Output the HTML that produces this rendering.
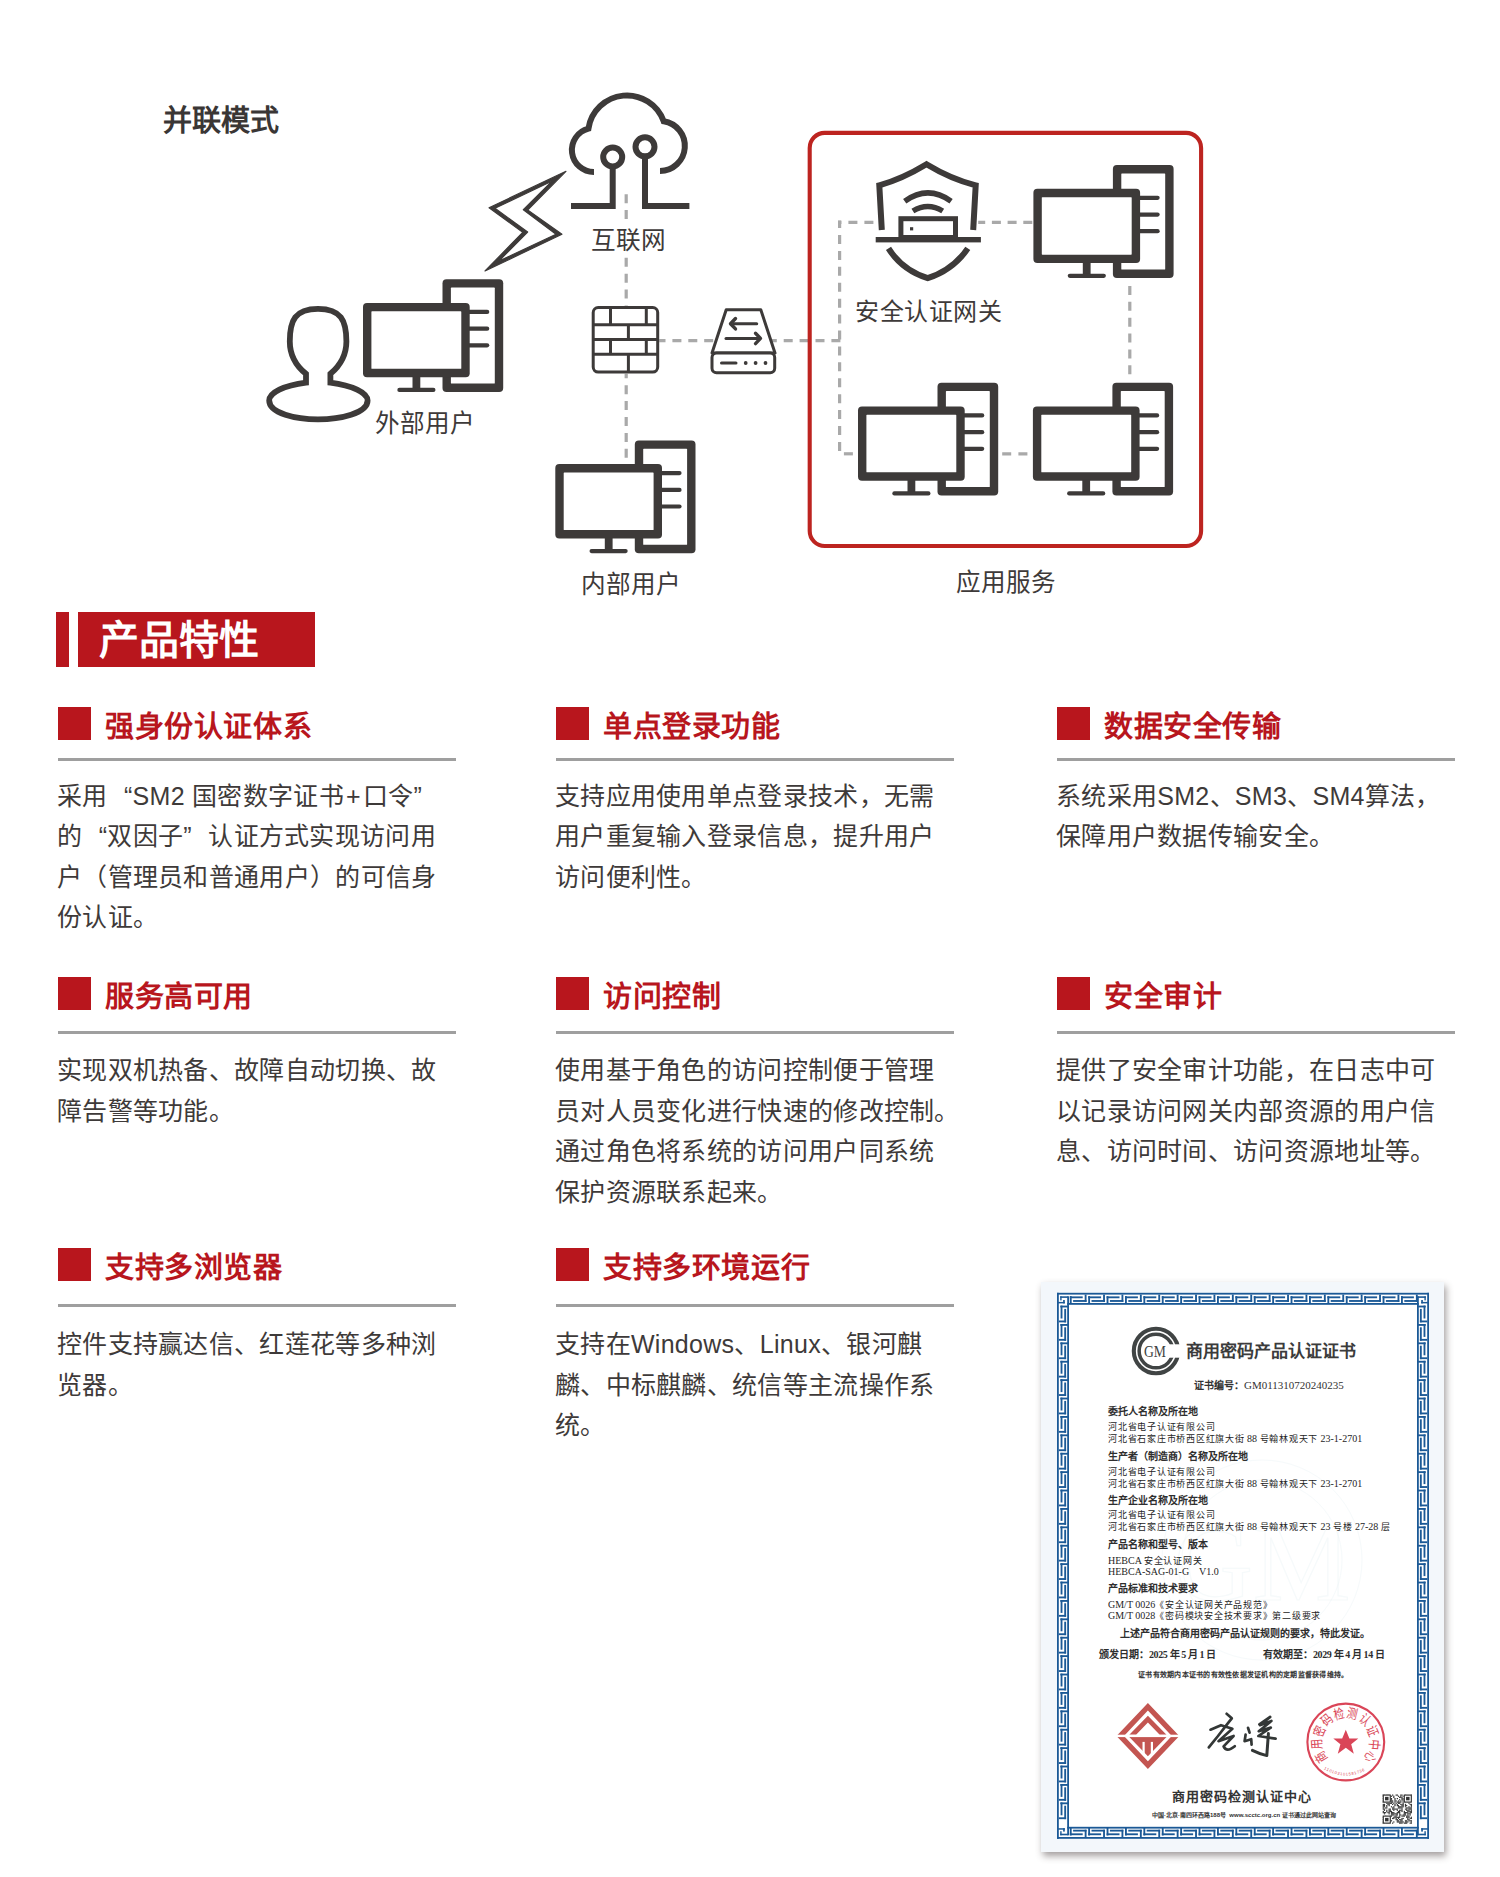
<!DOCTYPE html>
<html lang="zh-CN"><head><meta charset="utf-8"><title>并联模式</title>
<style>
html,body{margin:0;padding:0;background:#fff;}
body{width:1500px;height:1877px;position:relative;overflow:hidden;font-family:"Liberation Sans",sans-serif;color:#3e3a39;}
.diag{position:absolute;left:0;top:0;}
.t{position:absolute;white-space:nowrap;line-height:1;}
.lbl{position:absolute;white-space:nowrap;font-size:24.6px;line-height:1;color:#3e3a39;}
.sq{position:absolute;width:33px;height:33px;background:#b8161d;}
.fh{position:absolute;white-space:nowrap;font-size:29px;letter-spacing:0.6px;line-height:40px;font-weight:bold;color:#b8161d;}
.hl{position:absolute;width:398px;height:3px;background:#9f9f9f;}
.ql{display:inline-block;width:1em;text-align:right}
.qr{display:inline-block;width:1em;text-align:left}
.ct{position:absolute;white-space:nowrap;line-height:1;}
.lat{font-size:10px;letter-spacing:0;}
.pl{margin:0 2px}
.fb{position:absolute;white-space:nowrap;font-size:25px;letter-spacing:0.3px;line-height:40.6px;color:#3e3a39;}
</style></head><body>
<svg class="diag" width="1500" height="620" viewBox="0 0 1500 620"><line x1="626.2" y1="194.2" x2="626.2" y2="306" stroke="#a9a9a9" stroke-width="3.2" stroke-dasharray="9 6.90" stroke-dashoffset="0"/>
<rect x="612" y="224" width="30" height="30" fill="#fff"/>
<line x1="626.2" y1="373.8" x2="626.2" y2="457.8" stroke="#a9a9a9" stroke-width="3.2" stroke-dasharray="9 6.90" stroke-dashoffset="4.5"/>
<line x1="659.2" y1="340.6" x2="841.2" y2="340.6" stroke="#a9a9a9" stroke-width="3.2" stroke-dasharray="9 6.90" stroke-dashoffset="2.7"/>
<line x1="839.6" y1="220.4" x2="839.6" y2="451" stroke="#a9a9a9" stroke-width="3.2" stroke-dasharray="9 6.92" stroke-dashoffset="1.32"/>
<line x1="838" y1="222.3" x2="878" y2="222.3" stroke="#a9a9a9" stroke-width="3.2" stroke-dasharray="9 7.00" stroke-dashoffset="5.6"/>
<line x1="978.2" y1="222.3" x2="1033" y2="222.3" stroke="#a9a9a9" stroke-width="3.2" stroke-dasharray="9 6.70" stroke-dashoffset="2"/>
<line x1="843.9" y1="453.8" x2="852.9" y2="453.8" stroke="#a9a9a9" stroke-width="3.2" stroke-dasharray="9 6.90" stroke-dashoffset="0"/>
<line x1="1002.2" y1="453.8" x2="1028" y2="453.8" stroke="#a9a9a9" stroke-width="3.2" stroke-dasharray="9 7.20" stroke-dashoffset="0"/>
<line x1="1129.8" y1="286" x2="1129.8" y2="374.8" stroke="#a9a9a9" stroke-width="3.2" stroke-dasharray="9 6.85" stroke-dashoffset="0"/>
<rect x="809.7" y="132.9" width="391.4" height="413.1" rx="15" fill="none" stroke="#bd2420" stroke-width="4.1"/>
<path d="M594 172 A22 22 0 0 1 588.4 128.7 A39 39 0 0 1 663.7 121.3 A25 25 0 0 1 660 171" fill="none" stroke="#3d3a39" stroke-width="6"/>
<circle cx="612.7" cy="157" r="9.5" fill="none" stroke="#3d3a39" stroke-width="6"/>
<circle cx="645" cy="146.8" r="9.5" fill="none" stroke="#3d3a39" stroke-width="6"/>
<path d="M612.7 166.5 V206.1 H571" fill="none" stroke="#3d3a39" stroke-width="6"/>
<path d="M645 156.3 V206.1 H689.4" fill="none" stroke="#3d3a39" stroke-width="6"/>
<path d="M566 171.3 L489 207.7 L522.7 232.3 L485 271 L562 234.3 L527.7 210 Z M551.7 181.3 L495 208.3 L527.7 232 L499 261 L556 234.3 L523.3 209.7 Z" fill="#3d3a39" fill-rule="evenodd" stroke="#3d3a39" stroke-width="1.1" stroke-linejoin="round"/>
<rect x="593.2" y="307.6" width="64.5" height="64.5" rx="5" fill="#fff" stroke="#3d3a39" stroke-width="3"/>
<line x1="593.2" y1="324.8" x2="657.7" y2="324.8" stroke="#3d3a39" stroke-width="3"/>
<line x1="593.2" y1="339.6" x2="657.7" y2="339.6" stroke="#3d3a39" stroke-width="3"/>
<line x1="593.2" y1="354.2" x2="657.7" y2="354.2" stroke="#3d3a39" stroke-width="3"/>
<line x1="610.5" y1="307.6" x2="610.5" y2="324.8" stroke="#3d3a39" stroke-width="3"/>
<line x1="646.3" y1="307.6" x2="646.3" y2="324.8" stroke="#3d3a39" stroke-width="3"/>
<line x1="628.4" y1="324.8" x2="628.4" y2="339.6" stroke="#3d3a39" stroke-width="3"/>
<line x1="610.5" y1="339.6" x2="610.5" y2="354.2" stroke="#3d3a39" stroke-width="3"/>
<line x1="646.3" y1="339.6" x2="646.3" y2="354.2" stroke="#3d3a39" stroke-width="3"/>
<line x1="628.4" y1="354.2" x2="628.4" y2="372.1" stroke="#3d3a39" stroke-width="3"/>
<path d="M712 353 L726.2 309.8 L760.8 309.8 L775 353 Z" fill="#fff" stroke="#3d3a39" stroke-width="3" stroke-linejoin="round"/>
<rect x="712" y="353.1" width="62.7" height="19.7" rx="4.5" fill="#fff" stroke="#3d3a39" stroke-width="3"/>
<path d="M734 323.7 H756.7" stroke="#3d3a39" stroke-width="3" stroke-linecap="round"/>
<path d="M735.5 318.5 L730.5 323.7 L735.5 328.9" fill="none" stroke="#3d3a39" stroke-width="3.4" stroke-linecap="round" stroke-linejoin="round"/>
<path d="M726 338.4 H758" stroke="#3d3a39" stroke-width="3" stroke-linecap="round"/>
<path d="M755.5 333.2 L760.5 338.4 L755.5 343.6" fill="none" stroke="#3d3a39" stroke-width="3.4" stroke-linecap="round" stroke-linejoin="round"/>
<path d="M721.5 363 H736" stroke="#3d3a39" stroke-width="3" stroke-linecap="round"/>
<circle cx="745.7" cy="363" r="1.9" fill="#3d3a39"/>
<circle cx="755.6" cy="363" r="1.9" fill="#3d3a39"/>
<circle cx="765.5" cy="363" r="1.9" fill="#3d3a39"/>
<path d="M306 382.6 L306 373.8 C297.6 367 289.8 355.8 289.8 341.4 C289.8 320.4 295 308.8 318 308.8 C341 308.8 346.4 320.4 346.4 341.4 C346.4 355.8 338.4 367 330.4 373.8 L330.4 382.6 C352 385.4 367.6 392.6 367.6 400.6 C367.6 413.4 340 419.4 318 419.4 C296 419.4 269.2 413.4 269.2 400.6 C269.2 392.6 284 385.4 306 382.6 Z" fill="none" stroke="#3d3a39" stroke-width="5.8" stroke-linejoin="miter"/>
<rect x="442.5" y="279.2" width="60.7" height="112.8" rx="4" fill="#3d3a39"/>
<rect x="450.9" y="287.6" width="43.9" height="96.0" rx="0.6" fill="#fff"/>
<line x1="466.7" y1="311.9" x2="487.2" y2="311.9" stroke="#3d3a39" stroke-width="4.2" stroke-linecap="round"/>
<line x1="466.7" y1="328.7" x2="487.2" y2="328.7" stroke="#3d3a39" stroke-width="4.2" stroke-linecap="round"/>
<line x1="466.7" y1="345.3" x2="487.2" y2="345.3" stroke="#3d3a39" stroke-width="4.2" stroke-linecap="round"/>
<rect x="363.0" y="302.9" width="106.7" height="74.3" rx="4" fill="#3d3a39"/>
<rect x="371.4" y="311.3" width="89.9" height="57.5" rx="0.6" fill="#fff"/>
<rect x="412.5" y="376.2" width="7.8" height="13" fill="#3d3a39"/>
<line x1="399.4" y1="389.9" x2="433.4" y2="389.9" stroke="#3d3a39" stroke-width="4.2" stroke-linecap="round"/>
<rect x="634.8" y="440.4" width="60.7" height="112.8" rx="4" fill="#3d3a39"/>
<rect x="643.2" y="448.8" width="43.9" height="96.0" rx="0.6" fill="#fff"/>
<line x1="659.0" y1="473.1" x2="679.5" y2="473.1" stroke="#3d3a39" stroke-width="4.2" stroke-linecap="round"/>
<line x1="659.0" y1="489.9" x2="679.5" y2="489.9" stroke="#3d3a39" stroke-width="4.2" stroke-linecap="round"/>
<line x1="659.0" y1="506.5" x2="679.5" y2="506.5" stroke="#3d3a39" stroke-width="4.2" stroke-linecap="round"/>
<rect x="555.3" y="464.1" width="106.7" height="74.3" rx="4" fill="#3d3a39"/>
<rect x="563.7" y="472.5" width="89.9" height="57.5" rx="0.6" fill="#fff"/>
<rect x="604.8" y="537.4" width="7.8" height="13" fill="#3d3a39"/>
<line x1="591.6" y1="551.1" x2="625.6" y2="551.1" stroke="#3d3a39" stroke-width="4.2" stroke-linecap="round"/>
<rect x="1112.9" y="165.1" width="60.7" height="112.8" rx="4" fill="#3d3a39"/>
<rect x="1121.3" y="173.5" width="43.9" height="96.0" rx="0.6" fill="#fff"/>
<line x1="1137.1" y1="197.8" x2="1157.6" y2="197.8" stroke="#3d3a39" stroke-width="4.2" stroke-linecap="round"/>
<line x1="1137.1" y1="214.6" x2="1157.6" y2="214.6" stroke="#3d3a39" stroke-width="4.2" stroke-linecap="round"/>
<line x1="1137.1" y1="231.2" x2="1157.6" y2="231.2" stroke="#3d3a39" stroke-width="4.2" stroke-linecap="round"/>
<rect x="1033.4" y="188.8" width="106.7" height="74.3" rx="4" fill="#3d3a39"/>
<rect x="1041.8" y="197.2" width="89.9" height="57.5" rx="0.6" fill="#fff"/>
<rect x="1082.8" y="262.1" width="7.8" height="13" fill="#3d3a39"/>
<line x1="1069.8" y1="275.8" x2="1103.8" y2="275.8" stroke="#3d3a39" stroke-width="4.2" stroke-linecap="round"/>
<rect x="937.5" y="382.7" width="60.7" height="112.8" rx="4" fill="#3d3a39"/>
<rect x="945.9" y="391.1" width="43.9" height="96.0" rx="0.6" fill="#fff"/>
<line x1="961.7" y1="415.4" x2="982.2" y2="415.4" stroke="#3d3a39" stroke-width="4.2" stroke-linecap="round"/>
<line x1="961.7" y1="432.2" x2="982.2" y2="432.2" stroke="#3d3a39" stroke-width="4.2" stroke-linecap="round"/>
<line x1="961.7" y1="448.8" x2="982.2" y2="448.8" stroke="#3d3a39" stroke-width="4.2" stroke-linecap="round"/>
<rect x="858.0" y="406.4" width="106.7" height="74.3" rx="4" fill="#3d3a39"/>
<rect x="866.4" y="414.8" width="89.9" height="57.5" rx="0.6" fill="#fff"/>
<rect x="907.5" y="479.7" width="7.8" height="13" fill="#3d3a39"/>
<line x1="894.4" y1="493.4" x2="928.4" y2="493.4" stroke="#3d3a39" stroke-width="4.2" stroke-linecap="round"/>
<rect x="1112.4" y="382.7" width="60.7" height="112.8" rx="4" fill="#3d3a39"/>
<rect x="1120.8" y="391.1" width="43.9" height="96.0" rx="0.6" fill="#fff"/>
<line x1="1136.6" y1="415.4" x2="1157.1" y2="415.4" stroke="#3d3a39" stroke-width="4.2" stroke-linecap="round"/>
<line x1="1136.6" y1="432.2" x2="1157.1" y2="432.2" stroke="#3d3a39" stroke-width="4.2" stroke-linecap="round"/>
<line x1="1136.6" y1="448.8" x2="1157.1" y2="448.8" stroke="#3d3a39" stroke-width="4.2" stroke-linecap="round"/>
<rect x="1032.9" y="406.4" width="106.7" height="74.3" rx="4" fill="#3d3a39"/>
<rect x="1041.3" y="414.8" width="89.9" height="57.5" rx="0.6" fill="#fff"/>
<rect x="1082.3" y="479.7" width="7.8" height="13" fill="#3d3a39"/>
<line x1="1069.2" y1="493.4" x2="1103.2" y2="493.4" stroke="#3d3a39" stroke-width="4.2" stroke-linecap="round"/>
<rect x="882" y="175" width="90" height="100" fill="#fff"/>
<path d="M881.8 230 L879.3 185.3 Q902 179 926.5 164.2 Q951 179 975.7 185.3 L973.2 230" fill="none" stroke="#3d3a39" stroke-width="6" stroke-linejoin="miter"/>
<path d="M888.5 248.4 Q902 270 927.7 278.2 Q953 270 967.8 248.4" fill="none" stroke="#3d3a39" stroke-width="6" stroke-linejoin="miter"/>
<rect x="875.7" y="237" width="105.2" height="5.4" fill="#3d3a39"/>
<rect x="900.9" y="218.7" width="54.6" height="18.8" fill="#fff" stroke="#3d3a39" stroke-width="5"/>
<rect x="910" y="227.2" width="3.2" height="3.2" fill="#3d3a39"/>
<path d="M904.7 201.2 Q928 184.5 951.1 201.2" fill="none" stroke="#3d3a39" stroke-width="5.5"/>
<path d="M912.9 211 Q927.8 202 942.7 211" fill="none" stroke="#3d3a39" stroke-width="5.5"/></svg>
<div class="t" style="left:163px;top:107px;font-size:29px;font-weight:bold;color:#3a3635">并联模式</div>
<div class="lbl" style="left:591px;top:229px;background:#fff">互联网</div>
<div class="lbl" style="left:375px;top:412px">外部用户</div>
<div class="lbl" style="left:581px;top:573px">内部用户</div>
<div class="lbl" style="left:855px;top:300px;font-size:24px;letter-spacing:0.6px">安全认证网关</div>
<div class="lbl" style="left:956px;top:571px">应用服务</div>
<div style="position:absolute;left:55.6px;top:612px;width:13.7px;height:55px;background:#b8161d"></div>
<div style="position:absolute;left:78px;top:612px;width:237px;height:55px;background:#b8161d"></div>
<div class="t" style="left:99px;top:620px;font-size:40px;font-weight:bold;color:#fff">产品特性</div>
<div class="sq" style="left:58px;top:707px"></div><div class="fh" style="left:105px;top:707px">强身份认证体系</div><div class="hl" style="left:58px;top:758px"></div><div class="fb" style="left:57px;top:775.5px">采用<span class=ql>“</span>SM2 国密数字证书<span class=pl>+</span>口令<span class=qr>”</span><br>的<span class=ql>“</span>双因子<span class=qr>”</span>认证方式实现访问用<br>户（管理员和普通用户）的可信身<br>份认证。</div><div class="sq" style="left:556px;top:707px"></div><div class="fh" style="left:603px;top:707px">单点登录功能</div><div class="hl" style="left:556px;top:758px"></div><div class="fb" style="left:555px;top:775.5px">支持应用使用单点登录技术，无需<br>用户重复输入登录信息，提升用户<br>访问便利性。</div><div class="sq" style="left:1057px;top:707px"></div><div class="fh" style="left:1104px;top:707px">数据安全传输</div><div class="hl" style="left:1057px;top:758px"></div><div class="fb" style="left:1056px;top:775.5px">系统采用SM2、SM3、SM4算法，<br>保障用户数据传输安全。</div><div class="sq" style="left:58px;top:977px"></div><div class="fh" style="left:105px;top:977px">服务高可用</div><div class="hl" style="left:58px;top:1031px"></div><div class="fb" style="left:57px;top:1050.3px">实现双机热备、故障自动切换、故<br>障告警等功能。</div><div class="sq" style="left:556px;top:977px"></div><div class="fh" style="left:603px;top:977px">访问控制</div><div class="hl" style="left:556px;top:1031px"></div><div class="fb" style="left:555px;top:1050.3px">使用基于角色的访问控制便于管理<br>员对人员变化进行快速的修改控制。<br>通过角色将系统的访问用户同系统<br>保护资源联系起来。</div><div class="sq" style="left:1057px;top:977px"></div><div class="fh" style="left:1104px;top:977px">安全审计</div><div class="hl" style="left:1057px;top:1031px"></div><div class="fb" style="left:1056px;top:1050.3px">提供了安全审计功能，在日志中可<br>以记录访问网关内部资源的用户信<br>息、访问时间、访问资源地址等。</div><div class="sq" style="left:58px;top:1248px"></div><div class="fh" style="left:105px;top:1248px">支持多浏览器</div><div class="hl" style="left:58px;top:1304px"></div><div class="fb" style="left:57px;top:1324px">控件支持赢达信、红莲花等多种浏<br>览器。</div><div class="sq" style="left:556px;top:1248px"></div><div class="fh" style="left:603px;top:1248px">支持多环境运行</div><div class="hl" style="left:556px;top:1304px"></div><div class="fb" style="left:555px;top:1324px">支持在Windows、Linux、银河麒<br>麟、中标麒麟、统信等主流操作系<br>统。</div>
<div style="position:absolute;left:1040.7px;top:1281.7px;width:403.3px;height:570.3px;background:#f3f7fb;box-shadow:2px 4px 7px rgba(50,40,40,0.45)"></div>
<svg style="position:absolute;left:0;top:0" width="1500" height="1877" viewBox="0 0 1500 1877"><rect x="1057" y="1292.8" width="372" height="546" fill="#fff"/><g fill="none" stroke="#e6f1f5" stroke-width="1" opacity="0.35"><circle cx="1262" cy="1560" r="100"/><circle cx="1262" cy="1560" r="80"/></g><text x="1262" y="1600" text-anchor="middle" font-family="Liberation Serif" font-size="110" fill="none" stroke="#e9f3f6" stroke-width="1.2" opacity="0.4">GM</text><g fill="#1b5996"><rect x="1057.00" y="1292.80" width="372.00" height="1.80"/><rect x="1057.00" y="1837.00" width="372.00" height="1.80"/><rect x="1057.00" y="1292.80" width="1.80" height="546.00"/><rect x="1427.20" y="1292.80" width="1.80" height="546.00"/><rect x="1067.20" y="1303.00" width="351.60" height="1.80"/><rect x="1067.20" y="1826.80" width="351.60" height="1.80"/><rect x="1067.20" y="1296.30" width="1.80" height="539.00"/><rect x="1417.00" y="1296.30" width="1.80" height="539.00"/><rect x="1069.80" y="1296.10" width="1.85" height="7.60"/><rect x="1069.80" y="1296.40" width="12.90" height="1.85"/><rect x="1084.70" y="1294.60" width="1.85" height="7.30"/><rect x="1073.10" y="1300.05" width="13.45" height="1.85"/><rect x="1088.20" y="1296.10" width="1.85" height="7.60"/><rect x="1088.20" y="1296.40" width="12.90" height="1.85"/><rect x="1103.10" y="1294.60" width="1.85" height="7.30"/><rect x="1091.50" y="1300.05" width="13.45" height="1.85"/><rect x="1106.60" y="1296.10" width="1.85" height="7.60"/><rect x="1106.60" y="1296.40" width="12.90" height="1.85"/><rect x="1121.50" y="1294.60" width="1.85" height="7.30"/><rect x="1109.90" y="1300.05" width="13.45" height="1.85"/><rect x="1125.00" y="1296.10" width="1.85" height="7.60"/><rect x="1125.00" y="1296.40" width="12.90" height="1.85"/><rect x="1139.90" y="1294.60" width="1.85" height="7.30"/><rect x="1128.30" y="1300.05" width="13.45" height="1.85"/><rect x="1143.40" y="1296.10" width="1.85" height="7.60"/><rect x="1143.40" y="1296.40" width="12.90" height="1.85"/><rect x="1158.30" y="1294.60" width="1.85" height="7.30"/><rect x="1146.70" y="1300.05" width="13.45" height="1.85"/><rect x="1161.80" y="1296.10" width="1.85" height="7.60"/><rect x="1161.80" y="1296.40" width="12.90" height="1.85"/><rect x="1176.70" y="1294.60" width="1.85" height="7.30"/><rect x="1165.10" y="1300.05" width="13.45" height="1.85"/><rect x="1180.20" y="1296.10" width="1.85" height="7.60"/><rect x="1180.20" y="1296.40" width="12.90" height="1.85"/><rect x="1195.10" y="1294.60" width="1.85" height="7.30"/><rect x="1183.50" y="1300.05" width="13.45" height="1.85"/><rect x="1198.60" y="1296.10" width="1.85" height="7.60"/><rect x="1198.60" y="1296.40" width="12.90" height="1.85"/><rect x="1213.50" y="1294.60" width="1.85" height="7.30"/><rect x="1201.90" y="1300.05" width="13.45" height="1.85"/><rect x="1217.00" y="1296.10" width="1.85" height="7.60"/><rect x="1217.00" y="1296.40" width="12.90" height="1.85"/><rect x="1231.90" y="1294.60" width="1.85" height="7.30"/><rect x="1220.30" y="1300.05" width="13.45" height="1.85"/><rect x="1235.40" y="1296.10" width="1.85" height="7.60"/><rect x="1235.40" y="1296.40" width="12.90" height="1.85"/><rect x="1250.30" y="1294.60" width="1.85" height="7.30"/><rect x="1238.70" y="1300.05" width="13.45" height="1.85"/><rect x="1253.80" y="1296.10" width="1.85" height="7.60"/><rect x="1253.80" y="1296.40" width="12.90" height="1.85"/><rect x="1268.70" y="1294.60" width="1.85" height="7.30"/><rect x="1257.10" y="1300.05" width="13.45" height="1.85"/><rect x="1272.20" y="1296.10" width="1.85" height="7.60"/><rect x="1272.20" y="1296.40" width="12.90" height="1.85"/><rect x="1287.10" y="1294.60" width="1.85" height="7.30"/><rect x="1275.50" y="1300.05" width="13.45" height="1.85"/><rect x="1290.60" y="1296.10" width="1.85" height="7.60"/><rect x="1290.60" y="1296.40" width="12.90" height="1.85"/><rect x="1305.50" y="1294.60" width="1.85" height="7.30"/><rect x="1293.90" y="1300.05" width="13.45" height="1.85"/><rect x="1309.00" y="1296.10" width="1.85" height="7.60"/><rect x="1309.00" y="1296.40" width="12.90" height="1.85"/><rect x="1323.90" y="1294.60" width="1.85" height="7.30"/><rect x="1312.30" y="1300.05" width="13.45" height="1.85"/><rect x="1327.40" y="1296.10" width="1.85" height="7.60"/><rect x="1327.40" y="1296.40" width="12.90" height="1.85"/><rect x="1342.30" y="1294.60" width="1.85" height="7.30"/><rect x="1330.70" y="1300.05" width="13.45" height="1.85"/><rect x="1345.80" y="1296.10" width="1.85" height="7.60"/><rect x="1345.80" y="1296.40" width="12.90" height="1.85"/><rect x="1360.70" y="1294.60" width="1.85" height="7.30"/><rect x="1349.10" y="1300.05" width="13.45" height="1.85"/><rect x="1364.20" y="1296.10" width="1.85" height="7.60"/><rect x="1364.20" y="1296.40" width="12.90" height="1.85"/><rect x="1379.10" y="1294.60" width="1.85" height="7.30"/><rect x="1367.50" y="1300.05" width="13.45" height="1.85"/><rect x="1382.60" y="1296.10" width="1.85" height="7.60"/><rect x="1382.60" y="1296.40" width="12.90" height="1.85"/><rect x="1397.50" y="1294.60" width="1.85" height="7.30"/><rect x="1385.90" y="1300.05" width="13.45" height="1.85"/><rect x="1401.00" y="1296.10" width="1.85" height="7.60"/><rect x="1401.00" y="1296.40" width="12.90" height="1.85"/><rect x="1415.90" y="1294.60" width="1.85" height="7.30"/><rect x="1404.30" y="1300.05" width="13.45" height="1.85"/><rect x="1069.80" y="1827.90" width="1.85" height="7.60"/><rect x="1069.80" y="1833.35" width="12.90" height="1.85"/><rect x="1084.70" y="1829.70" width="1.85" height="7.30"/><rect x="1073.10" y="1829.70" width="13.45" height="1.85"/><rect x="1088.20" y="1827.90" width="1.85" height="7.60"/><rect x="1088.20" y="1833.35" width="12.90" height="1.85"/><rect x="1103.10" y="1829.70" width="1.85" height="7.30"/><rect x="1091.50" y="1829.70" width="13.45" height="1.85"/><rect x="1106.60" y="1827.90" width="1.85" height="7.60"/><rect x="1106.60" y="1833.35" width="12.90" height="1.85"/><rect x="1121.50" y="1829.70" width="1.85" height="7.30"/><rect x="1109.90" y="1829.70" width="13.45" height="1.85"/><rect x="1125.00" y="1827.90" width="1.85" height="7.60"/><rect x="1125.00" y="1833.35" width="12.90" height="1.85"/><rect x="1139.90" y="1829.70" width="1.85" height="7.30"/><rect x="1128.30" y="1829.70" width="13.45" height="1.85"/><rect x="1143.40" y="1827.90" width="1.85" height="7.60"/><rect x="1143.40" y="1833.35" width="12.90" height="1.85"/><rect x="1158.30" y="1829.70" width="1.85" height="7.30"/><rect x="1146.70" y="1829.70" width="13.45" height="1.85"/><rect x="1161.80" y="1827.90" width="1.85" height="7.60"/><rect x="1161.80" y="1833.35" width="12.90" height="1.85"/><rect x="1176.70" y="1829.70" width="1.85" height="7.30"/><rect x="1165.10" y="1829.70" width="13.45" height="1.85"/><rect x="1180.20" y="1827.90" width="1.85" height="7.60"/><rect x="1180.20" y="1833.35" width="12.90" height="1.85"/><rect x="1195.10" y="1829.70" width="1.85" height="7.30"/><rect x="1183.50" y="1829.70" width="13.45" height="1.85"/><rect x="1198.60" y="1827.90" width="1.85" height="7.60"/><rect x="1198.60" y="1833.35" width="12.90" height="1.85"/><rect x="1213.50" y="1829.70" width="1.85" height="7.30"/><rect x="1201.90" y="1829.70" width="13.45" height="1.85"/><rect x="1217.00" y="1827.90" width="1.85" height="7.60"/><rect x="1217.00" y="1833.35" width="12.90" height="1.85"/><rect x="1231.90" y="1829.70" width="1.85" height="7.30"/><rect x="1220.30" y="1829.70" width="13.45" height="1.85"/><rect x="1235.40" y="1827.90" width="1.85" height="7.60"/><rect x="1235.40" y="1833.35" width="12.90" height="1.85"/><rect x="1250.30" y="1829.70" width="1.85" height="7.30"/><rect x="1238.70" y="1829.70" width="13.45" height="1.85"/><rect x="1253.80" y="1827.90" width="1.85" height="7.60"/><rect x="1253.80" y="1833.35" width="12.90" height="1.85"/><rect x="1268.70" y="1829.70" width="1.85" height="7.30"/><rect x="1257.10" y="1829.70" width="13.45" height="1.85"/><rect x="1272.20" y="1827.90" width="1.85" height="7.60"/><rect x="1272.20" y="1833.35" width="12.90" height="1.85"/><rect x="1287.10" y="1829.70" width="1.85" height="7.30"/><rect x="1275.50" y="1829.70" width="13.45" height="1.85"/><rect x="1290.60" y="1827.90" width="1.85" height="7.60"/><rect x="1290.60" y="1833.35" width="12.90" height="1.85"/><rect x="1305.50" y="1829.70" width="1.85" height="7.30"/><rect x="1293.90" y="1829.70" width="13.45" height="1.85"/><rect x="1309.00" y="1827.90" width="1.85" height="7.60"/><rect x="1309.00" y="1833.35" width="12.90" height="1.85"/><rect x="1323.90" y="1829.70" width="1.85" height="7.30"/><rect x="1312.30" y="1829.70" width="13.45" height="1.85"/><rect x="1327.40" y="1827.90" width="1.85" height="7.60"/><rect x="1327.40" y="1833.35" width="12.90" height="1.85"/><rect x="1342.30" y="1829.70" width="1.85" height="7.30"/><rect x="1330.70" y="1829.70" width="13.45" height="1.85"/><rect x="1345.80" y="1827.90" width="1.85" height="7.60"/><rect x="1345.80" y="1833.35" width="12.90" height="1.85"/><rect x="1360.70" y="1829.70" width="1.85" height="7.30"/><rect x="1349.10" y="1829.70" width="13.45" height="1.85"/><rect x="1364.20" y="1827.90" width="1.85" height="7.60"/><rect x="1364.20" y="1833.35" width="12.90" height="1.85"/><rect x="1379.10" y="1829.70" width="1.85" height="7.30"/><rect x="1367.50" y="1829.70" width="13.45" height="1.85"/><rect x="1382.60" y="1827.90" width="1.85" height="7.60"/><rect x="1382.60" y="1833.35" width="12.90" height="1.85"/><rect x="1397.50" y="1829.70" width="1.85" height="7.30"/><rect x="1385.90" y="1829.70" width="13.45" height="1.85"/><rect x="1401.00" y="1827.90" width="1.85" height="7.60"/><rect x="1401.00" y="1833.35" width="12.90" height="1.85"/><rect x="1415.90" y="1829.70" width="1.85" height="7.30"/><rect x="1404.30" y="1829.70" width="13.45" height="1.85"/><rect x="1060.30" y="1305.60" width="7.60" height="1.85"/><rect x="1060.60" y="1305.60" width="1.85" height="12.90"/><rect x="1058.80" y="1320.50" width="7.30" height="1.85"/><rect x="1064.25" y="1308.90" width="1.85" height="13.45"/><rect x="1060.30" y="1324.00" width="7.60" height="1.85"/><rect x="1060.60" y="1324.00" width="1.85" height="12.90"/><rect x="1058.80" y="1338.90" width="7.30" height="1.85"/><rect x="1064.25" y="1327.30" width="1.85" height="13.45"/><rect x="1060.30" y="1342.40" width="7.60" height="1.85"/><rect x="1060.60" y="1342.40" width="1.85" height="12.90"/><rect x="1058.80" y="1357.30" width="7.30" height="1.85"/><rect x="1064.25" y="1345.70" width="1.85" height="13.45"/><rect x="1060.30" y="1360.80" width="7.60" height="1.85"/><rect x="1060.60" y="1360.80" width="1.85" height="12.90"/><rect x="1058.80" y="1375.70" width="7.30" height="1.85"/><rect x="1064.25" y="1364.10" width="1.85" height="13.45"/><rect x="1060.30" y="1379.20" width="7.60" height="1.85"/><rect x="1060.60" y="1379.20" width="1.85" height="12.90"/><rect x="1058.80" y="1394.10" width="7.30" height="1.85"/><rect x="1064.25" y="1382.50" width="1.85" height="13.45"/><rect x="1060.30" y="1397.60" width="7.60" height="1.85"/><rect x="1060.60" y="1397.60" width="1.85" height="12.90"/><rect x="1058.80" y="1412.50" width="7.30" height="1.85"/><rect x="1064.25" y="1400.90" width="1.85" height="13.45"/><rect x="1060.30" y="1416.00" width="7.60" height="1.85"/><rect x="1060.60" y="1416.00" width="1.85" height="12.90"/><rect x="1058.80" y="1430.90" width="7.30" height="1.85"/><rect x="1064.25" y="1419.30" width="1.85" height="13.45"/><rect x="1060.30" y="1434.40" width="7.60" height="1.85"/><rect x="1060.60" y="1434.40" width="1.85" height="12.90"/><rect x="1058.80" y="1449.30" width="7.30" height="1.85"/><rect x="1064.25" y="1437.70" width="1.85" height="13.45"/><rect x="1060.30" y="1452.80" width="7.60" height="1.85"/><rect x="1060.60" y="1452.80" width="1.85" height="12.90"/><rect x="1058.80" y="1467.70" width="7.30" height="1.85"/><rect x="1064.25" y="1456.10" width="1.85" height="13.45"/><rect x="1060.30" y="1471.20" width="7.60" height="1.85"/><rect x="1060.60" y="1471.20" width="1.85" height="12.90"/><rect x="1058.80" y="1486.10" width="7.30" height="1.85"/><rect x="1064.25" y="1474.50" width="1.85" height="13.45"/><rect x="1060.30" y="1489.60" width="7.60" height="1.85"/><rect x="1060.60" y="1489.60" width="1.85" height="12.90"/><rect x="1058.80" y="1504.50" width="7.30" height="1.85"/><rect x="1064.25" y="1492.90" width="1.85" height="13.45"/><rect x="1060.30" y="1508.00" width="7.60" height="1.85"/><rect x="1060.60" y="1508.00" width="1.85" height="12.90"/><rect x="1058.80" y="1522.90" width="7.30" height="1.85"/><rect x="1064.25" y="1511.30" width="1.85" height="13.45"/><rect x="1060.30" y="1526.40" width="7.60" height="1.85"/><rect x="1060.60" y="1526.40" width="1.85" height="12.90"/><rect x="1058.80" y="1541.30" width="7.30" height="1.85"/><rect x="1064.25" y="1529.70" width="1.85" height="13.45"/><rect x="1060.30" y="1544.80" width="7.60" height="1.85"/><rect x="1060.60" y="1544.80" width="1.85" height="12.90"/><rect x="1058.80" y="1559.70" width="7.30" height="1.85"/><rect x="1064.25" y="1548.10" width="1.85" height="13.45"/><rect x="1060.30" y="1563.20" width="7.60" height="1.85"/><rect x="1060.60" y="1563.20" width="1.85" height="12.90"/><rect x="1058.80" y="1578.10" width="7.30" height="1.85"/><rect x="1064.25" y="1566.50" width="1.85" height="13.45"/><rect x="1060.30" y="1581.60" width="7.60" height="1.85"/><rect x="1060.60" y="1581.60" width="1.85" height="12.90"/><rect x="1058.80" y="1596.50" width="7.30" height="1.85"/><rect x="1064.25" y="1584.90" width="1.85" height="13.45"/><rect x="1060.30" y="1600.00" width="7.60" height="1.85"/><rect x="1060.60" y="1600.00" width="1.85" height="12.90"/><rect x="1058.80" y="1614.90" width="7.30" height="1.85"/><rect x="1064.25" y="1603.30" width="1.85" height="13.45"/><rect x="1060.30" y="1618.40" width="7.60" height="1.85"/><rect x="1060.60" y="1618.40" width="1.85" height="12.90"/><rect x="1058.80" y="1633.30" width="7.30" height="1.85"/><rect x="1064.25" y="1621.70" width="1.85" height="13.45"/><rect x="1060.30" y="1636.80" width="7.60" height="1.85"/><rect x="1060.60" y="1636.80" width="1.85" height="12.90"/><rect x="1058.80" y="1651.70" width="7.30" height="1.85"/><rect x="1064.25" y="1640.10" width="1.85" height="13.45"/><rect x="1060.30" y="1655.20" width="7.60" height="1.85"/><rect x="1060.60" y="1655.20" width="1.85" height="12.90"/><rect x="1058.80" y="1670.10" width="7.30" height="1.85"/><rect x="1064.25" y="1658.50" width="1.85" height="13.45"/><rect x="1060.30" y="1673.60" width="7.60" height="1.85"/><rect x="1060.60" y="1673.60" width="1.85" height="12.90"/><rect x="1058.80" y="1688.50" width="7.30" height="1.85"/><rect x="1064.25" y="1676.90" width="1.85" height="13.45"/><rect x="1060.30" y="1692.00" width="7.60" height="1.85"/><rect x="1060.60" y="1692.00" width="1.85" height="12.90"/><rect x="1058.80" y="1706.90" width="7.30" height="1.85"/><rect x="1064.25" y="1695.30" width="1.85" height="13.45"/><rect x="1060.30" y="1710.40" width="7.60" height="1.85"/><rect x="1060.60" y="1710.40" width="1.85" height="12.90"/><rect x="1058.80" y="1725.30" width="7.30" height="1.85"/><rect x="1064.25" y="1713.70" width="1.85" height="13.45"/><rect x="1060.30" y="1728.80" width="7.60" height="1.85"/><rect x="1060.60" y="1728.80" width="1.85" height="12.90"/><rect x="1058.80" y="1743.70" width="7.30" height="1.85"/><rect x="1064.25" y="1732.10" width="1.85" height="13.45"/><rect x="1060.30" y="1747.20" width="7.60" height="1.85"/><rect x="1060.60" y="1747.20" width="1.85" height="12.90"/><rect x="1058.80" y="1762.10" width="7.30" height="1.85"/><rect x="1064.25" y="1750.50" width="1.85" height="13.45"/><rect x="1060.30" y="1765.60" width="7.60" height="1.85"/><rect x="1060.60" y="1765.60" width="1.85" height="12.90"/><rect x="1058.80" y="1780.50" width="7.30" height="1.85"/><rect x="1064.25" y="1768.90" width="1.85" height="13.45"/><rect x="1060.30" y="1784.00" width="7.60" height="1.85"/><rect x="1060.60" y="1784.00" width="1.85" height="12.90"/><rect x="1058.80" y="1798.90" width="7.30" height="1.85"/><rect x="1064.25" y="1787.30" width="1.85" height="13.45"/><rect x="1060.30" y="1802.40" width="7.60" height="1.85"/><rect x="1060.60" y="1802.40" width="1.85" height="12.90"/><rect x="1058.80" y="1817.30" width="7.30" height="1.85"/><rect x="1064.25" y="1805.70" width="1.85" height="13.45"/><rect x="1418.10" y="1305.60" width="7.60" height="1.85"/><rect x="1423.55" y="1305.60" width="1.85" height="12.90"/><rect x="1419.90" y="1320.50" width="7.30" height="1.85"/><rect x="1419.90" y="1308.90" width="1.85" height="13.45"/><rect x="1418.10" y="1324.00" width="7.60" height="1.85"/><rect x="1423.55" y="1324.00" width="1.85" height="12.90"/><rect x="1419.90" y="1338.90" width="7.30" height="1.85"/><rect x="1419.90" y="1327.30" width="1.85" height="13.45"/><rect x="1418.10" y="1342.40" width="7.60" height="1.85"/><rect x="1423.55" y="1342.40" width="1.85" height="12.90"/><rect x="1419.90" y="1357.30" width="7.30" height="1.85"/><rect x="1419.90" y="1345.70" width="1.85" height="13.45"/><rect x="1418.10" y="1360.80" width="7.60" height="1.85"/><rect x="1423.55" y="1360.80" width="1.85" height="12.90"/><rect x="1419.90" y="1375.70" width="7.30" height="1.85"/><rect x="1419.90" y="1364.10" width="1.85" height="13.45"/><rect x="1418.10" y="1379.20" width="7.60" height="1.85"/><rect x="1423.55" y="1379.20" width="1.85" height="12.90"/><rect x="1419.90" y="1394.10" width="7.30" height="1.85"/><rect x="1419.90" y="1382.50" width="1.85" height="13.45"/><rect x="1418.10" y="1397.60" width="7.60" height="1.85"/><rect x="1423.55" y="1397.60" width="1.85" height="12.90"/><rect x="1419.90" y="1412.50" width="7.30" height="1.85"/><rect x="1419.90" y="1400.90" width="1.85" height="13.45"/><rect x="1418.10" y="1416.00" width="7.60" height="1.85"/><rect x="1423.55" y="1416.00" width="1.85" height="12.90"/><rect x="1419.90" y="1430.90" width="7.30" height="1.85"/><rect x="1419.90" y="1419.30" width="1.85" height="13.45"/><rect x="1418.10" y="1434.40" width="7.60" height="1.85"/><rect x="1423.55" y="1434.40" width="1.85" height="12.90"/><rect x="1419.90" y="1449.30" width="7.30" height="1.85"/><rect x="1419.90" y="1437.70" width="1.85" height="13.45"/><rect x="1418.10" y="1452.80" width="7.60" height="1.85"/><rect x="1423.55" y="1452.80" width="1.85" height="12.90"/><rect x="1419.90" y="1467.70" width="7.30" height="1.85"/><rect x="1419.90" y="1456.10" width="1.85" height="13.45"/><rect x="1418.10" y="1471.20" width="7.60" height="1.85"/><rect x="1423.55" y="1471.20" width="1.85" height="12.90"/><rect x="1419.90" y="1486.10" width="7.30" height="1.85"/><rect x="1419.90" y="1474.50" width="1.85" height="13.45"/><rect x="1418.10" y="1489.60" width="7.60" height="1.85"/><rect x="1423.55" y="1489.60" width="1.85" height="12.90"/><rect x="1419.90" y="1504.50" width="7.30" height="1.85"/><rect x="1419.90" y="1492.90" width="1.85" height="13.45"/><rect x="1418.10" y="1508.00" width="7.60" height="1.85"/><rect x="1423.55" y="1508.00" width="1.85" height="12.90"/><rect x="1419.90" y="1522.90" width="7.30" height="1.85"/><rect x="1419.90" y="1511.30" width="1.85" height="13.45"/><rect x="1418.10" y="1526.40" width="7.60" height="1.85"/><rect x="1423.55" y="1526.40" width="1.85" height="12.90"/><rect x="1419.90" y="1541.30" width="7.30" height="1.85"/><rect x="1419.90" y="1529.70" width="1.85" height="13.45"/><rect x="1418.10" y="1544.80" width="7.60" height="1.85"/><rect x="1423.55" y="1544.80" width="1.85" height="12.90"/><rect x="1419.90" y="1559.70" width="7.30" height="1.85"/><rect x="1419.90" y="1548.10" width="1.85" height="13.45"/><rect x="1418.10" y="1563.20" width="7.60" height="1.85"/><rect x="1423.55" y="1563.20" width="1.85" height="12.90"/><rect x="1419.90" y="1578.10" width="7.30" height="1.85"/><rect x="1419.90" y="1566.50" width="1.85" height="13.45"/><rect x="1418.10" y="1581.60" width="7.60" height="1.85"/><rect x="1423.55" y="1581.60" width="1.85" height="12.90"/><rect x="1419.90" y="1596.50" width="7.30" height="1.85"/><rect x="1419.90" y="1584.90" width="1.85" height="13.45"/><rect x="1418.10" y="1600.00" width="7.60" height="1.85"/><rect x="1423.55" y="1600.00" width="1.85" height="12.90"/><rect x="1419.90" y="1614.90" width="7.30" height="1.85"/><rect x="1419.90" y="1603.30" width="1.85" height="13.45"/><rect x="1418.10" y="1618.40" width="7.60" height="1.85"/><rect x="1423.55" y="1618.40" width="1.85" height="12.90"/><rect x="1419.90" y="1633.30" width="7.30" height="1.85"/><rect x="1419.90" y="1621.70" width="1.85" height="13.45"/><rect x="1418.10" y="1636.80" width="7.60" height="1.85"/><rect x="1423.55" y="1636.80" width="1.85" height="12.90"/><rect x="1419.90" y="1651.70" width="7.30" height="1.85"/><rect x="1419.90" y="1640.10" width="1.85" height="13.45"/><rect x="1418.10" y="1655.20" width="7.60" height="1.85"/><rect x="1423.55" y="1655.20" width="1.85" height="12.90"/><rect x="1419.90" y="1670.10" width="7.30" height="1.85"/><rect x="1419.90" y="1658.50" width="1.85" height="13.45"/><rect x="1418.10" y="1673.60" width="7.60" height="1.85"/><rect x="1423.55" y="1673.60" width="1.85" height="12.90"/><rect x="1419.90" y="1688.50" width="7.30" height="1.85"/><rect x="1419.90" y="1676.90" width="1.85" height="13.45"/><rect x="1418.10" y="1692.00" width="7.60" height="1.85"/><rect x="1423.55" y="1692.00" width="1.85" height="12.90"/><rect x="1419.90" y="1706.90" width="7.30" height="1.85"/><rect x="1419.90" y="1695.30" width="1.85" height="13.45"/><rect x="1418.10" y="1710.40" width="7.60" height="1.85"/><rect x="1423.55" y="1710.40" width="1.85" height="12.90"/><rect x="1419.90" y="1725.30" width="7.30" height="1.85"/><rect x="1419.90" y="1713.70" width="1.85" height="13.45"/><rect x="1418.10" y="1728.80" width="7.60" height="1.85"/><rect x="1423.55" y="1728.80" width="1.85" height="12.90"/><rect x="1419.90" y="1743.70" width="7.30" height="1.85"/><rect x="1419.90" y="1732.10" width="1.85" height="13.45"/><rect x="1418.10" y="1747.20" width="7.60" height="1.85"/><rect x="1423.55" y="1747.20" width="1.85" height="12.90"/><rect x="1419.90" y="1762.10" width="7.30" height="1.85"/><rect x="1419.90" y="1750.50" width="1.85" height="13.45"/><rect x="1418.10" y="1765.60" width="7.60" height="1.85"/><rect x="1423.55" y="1765.60" width="1.85" height="12.90"/><rect x="1419.90" y="1780.50" width="7.30" height="1.85"/><rect x="1419.90" y="1768.90" width="1.85" height="13.45"/><rect x="1418.10" y="1784.00" width="7.60" height="1.85"/><rect x="1423.55" y="1784.00" width="1.85" height="12.90"/><rect x="1419.90" y="1798.90" width="7.30" height="1.85"/><rect x="1419.90" y="1787.30" width="1.85" height="13.45"/><rect x="1418.10" y="1802.40" width="7.60" height="1.85"/><rect x="1423.55" y="1802.40" width="1.85" height="12.90"/><rect x="1419.90" y="1817.30" width="7.30" height="1.85"/><rect x="1419.90" y="1805.70" width="1.85" height="13.45"/><rect x="1060.20" y="1296.30" width="8.00" height="1.60"/><rect x="1060.20" y="1296.30" width="1.40" height="4.10"/><rect x="1058.10" y="1301.90" width="6.70" height="1.50"/><rect x="1063.10" y="1300.00" width="1.70" height="3.40"/><rect x="1417.80" y="1296.30" width="8.00" height="1.60"/><rect x="1424.40" y="1296.30" width="1.40" height="4.10"/><rect x="1421.20" y="1301.90" width="6.70" height="1.50"/><rect x="1421.20" y="1300.00" width="1.70" height="3.40"/><rect x="1060.20" y="1833.70" width="8.00" height="1.60"/><rect x="1060.20" y="1831.20" width="1.40" height="4.10"/><rect x="1058.10" y="1828.20" width="6.70" height="1.50"/><rect x="1063.10" y="1828.20" width="1.70" height="3.40"/><rect x="1417.80" y="1833.70" width="8.00" height="1.60"/><rect x="1424.40" y="1831.20" width="1.40" height="4.10"/><rect x="1421.20" y="1828.20" width="6.70" height="1.50"/><rect x="1421.20" y="1828.20" width="1.70" height="3.40"/></g><g fill="none" stroke="#404444"><circle cx="1156" cy="1351" r="22.2" stroke-width="4.1"/><circle cx="1156" cy="1351" r="16.85" stroke-width="3.5"/></g><rect x="1166" y="1344.3" width="20" height="13.4" fill="#fff"/><text x="1144" y="1356.6" font-family="Liberation Serif" font-size="16.5" textLength="22" lengthAdjust="spacingAndGlyphs" fill="#3d4242">GM</text><g fill="#c35551"><path d="M1147.9 1702.9 L1179.3000000000002 1735.9 L1147.9 1768.9 L1116.5 1735.9 Z M1147.9 1710.6000000000001 L1124.0 1735.9 L1147.9 1761.2 L1171.8000000000002 1735.9 Z" fill-rule="evenodd"/><path d="M1147.9 1715.7 L1166.5 1734.7 L1159.7 1734.7 L1147.9 1722.4 L1136.1000000000001 1734.7 L1129.3000000000002 1734.7 Z"/><path d="M1129.3000000000002 1737.1000000000001 H1166.5 L1147.9 1756.3000000000002 Z"/></g><g fill="#fff"><rect x="1114.9" y="1734.7" width="66" height="2.4"/><rect x="1142.5" y="1741.9" width="2.2" height="12"/><rect x="1150.8000000000002" y="1741.9" width="2.2" height="12"/></g><g fill="none" stroke="#333736" stroke-linecap="round" stroke-linejoin="round" stroke-width="2.7"><path d="M1226.6 1713.8 L1231.8 1718.3 L1227.4 1723.8 L1218 1736 L1208.8 1747.4"/><path d="M1210.5 1729.7 L1221 1725.2 L1232.4 1728.8 L1218.5 1741.2 L1233.6 1736 L1223.6 1746.4 Q1226.4 1753 1234.8 1746.2"/><path d="M1248 1727.8 L1249.6 1732.6"/><path d="M1245.6 1734.6 L1244.6 1741.2 L1251.2 1739.2 L1251.6 1744.6"/><path d="M1259.4 1724.3 L1270.2 1716.9 L1260 1725.2 L1271.4 1721 L1258.8 1731.2 L1270.8 1727.6 L1258.4 1736 L1275.6 1738.7"/><path d="M1268.4 1733.6 L1266.8 1755.6 Q1260 1754.2 1252.4 1750.4" stroke-width="3"/></g><g opacity="0.92"><circle cx="1345.8" cy="1742" r="38.4" fill="none" stroke="#d7364a" stroke-width="2.1"/><text transform="translate(1321.63,1757.10) rotate(-122.0) scale(0.78,1)" text-anchor="middle" dominant-baseline="central" font-family="Liberation Sans" font-size="13.5" fill="#d7364a">商</text><text transform="translate(1317.40,1744.43) rotate(-94.9) scale(0.78,1)" text-anchor="middle" dominant-baseline="central" font-family="Liberation Sans" font-size="13.5" fill="#d7364a">用</text><text transform="translate(1319.42,1731.22) rotate(-67.8) scale(0.78,1)" text-anchor="middle" dominant-baseline="central" font-family="Liberation Sans" font-size="13.5" fill="#d7364a">密</text><text transform="translate(1327.23,1720.38) rotate(-40.7) scale(0.78,1)" text-anchor="middle" dominant-baseline="central" font-family="Liberation Sans" font-size="13.5" fill="#d7364a">码</text><text transform="translate(1339.12,1714.29) rotate(-13.6) scale(0.78,1)" text-anchor="middle" dominant-baseline="central" font-family="Liberation Sans" font-size="13.5" fill="#d7364a">检</text><text transform="translate(1352.48,1714.29) rotate(13.6) scale(0.78,1)" text-anchor="middle" dominant-baseline="central" font-family="Liberation Sans" font-size="13.5" fill="#d7364a">测</text><text transform="translate(1364.37,1720.38) rotate(40.7) scale(0.78,1)" text-anchor="middle" dominant-baseline="central" font-family="Liberation Sans" font-size="13.5" fill="#d7364a">认</text><text transform="translate(1372.18,1731.22) rotate(67.8) scale(0.78,1)" text-anchor="middle" dominant-baseline="central" font-family="Liberation Sans" font-size="13.5" fill="#d7364a">证</text><text transform="translate(1374.20,1744.43) rotate(94.9) scale(0.78,1)" text-anchor="middle" dominant-baseline="central" font-family="Liberation Sans" font-size="13.5" fill="#d7364a">中</text><text transform="translate(1369.97,1757.10) rotate(122.0) scale(0.78,1)" text-anchor="middle" dominant-baseline="central" font-family="Liberation Sans" font-size="13.5" fill="#d7364a">心</text><path d="M1345.8 1729.7 L1349.3999999999999 1738.4 L1358.3 1738.4 L1351.2 1744.2 L1353.8 1753.8 L1345.8 1747.8 L1337.8 1753.8 L1340.3999999999999 1744.2 L1333.3 1738.4 L1342.2 1738.4 Z" fill="#d7364a"/><path id="sealbot" d="M1323.8 1769 Q1345.8 1782 1367.8 1769" fill="none"/><text font-family="Liberation Sans" font-size="4" fill="#d7364a" letter-spacing="0.7"><textPath href="#sealbot">110102101581736</textPath></text></g><g fill="#333"><rect x="1382.70" y="1794.50" width="1.22" height="1.22"/><rect x="1382.70" y="1795.67" width="1.22" height="1.22"/><rect x="1382.70" y="1798.00" width="1.22" height="1.22"/><rect x="1382.70" y="1800.34" width="1.22" height="1.22"/><rect x="1382.70" y="1801.51" width="1.22" height="1.22"/><rect x="1382.70" y="1803.84" width="1.22" height="1.22"/><rect x="1382.70" y="1805.01" width="1.22" height="1.22"/><rect x="1382.70" y="1806.18" width="1.22" height="1.22"/><rect x="1382.70" y="1807.35" width="1.22" height="1.22"/><rect x="1382.70" y="1808.52" width="1.22" height="1.22"/><rect x="1382.70" y="1810.85" width="1.22" height="1.22"/><rect x="1382.70" y="1812.02" width="1.22" height="1.22"/><rect x="1382.70" y="1816.69" width="1.22" height="1.22"/><rect x="1382.70" y="1819.03" width="1.22" height="1.22"/><rect x="1382.70" y="1821.36" width="1.22" height="1.22"/><rect x="1382.70" y="1822.53" width="1.22" height="1.22"/><rect x="1383.87" y="1794.50" width="1.22" height="1.22"/><rect x="1383.87" y="1795.67" width="1.22" height="1.22"/><rect x="1383.87" y="1798.00" width="1.22" height="1.22"/><rect x="1383.87" y="1801.51" width="1.22" height="1.22"/><rect x="1383.87" y="1803.84" width="1.22" height="1.22"/><rect x="1383.87" y="1805.01" width="1.22" height="1.22"/><rect x="1383.87" y="1806.18" width="1.22" height="1.22"/><rect x="1383.87" y="1808.52" width="1.22" height="1.22"/><rect x="1383.87" y="1809.68" width="1.22" height="1.22"/><rect x="1383.87" y="1812.02" width="1.22" height="1.22"/><rect x="1383.87" y="1813.19" width="1.22" height="1.22"/><rect x="1383.87" y="1816.69" width="1.22" height="1.22"/><rect x="1383.87" y="1822.53" width="1.22" height="1.22"/><rect x="1385.04" y="1795.67" width="1.22" height="1.22"/><rect x="1385.04" y="1796.84" width="1.22" height="1.22"/><rect x="1385.04" y="1799.17" width="1.22" height="1.22"/><rect x="1385.04" y="1800.34" width="1.22" height="1.22"/><rect x="1385.04" y="1801.51" width="1.22" height="1.22"/><rect x="1385.04" y="1807.35" width="1.22" height="1.22"/><rect x="1385.04" y="1812.02" width="1.22" height="1.22"/><rect x="1385.04" y="1815.52" width="1.22" height="1.22"/><rect x="1385.04" y="1817.86" width="1.22" height="1.22"/><rect x="1386.20" y="1794.50" width="1.22" height="1.22"/><rect x="1386.20" y="1795.67" width="1.22" height="1.22"/><rect x="1386.20" y="1798.00" width="1.22" height="1.22"/><rect x="1386.20" y="1799.17" width="1.22" height="1.22"/><rect x="1386.20" y="1800.34" width="1.22" height="1.22"/><rect x="1386.20" y="1801.51" width="1.22" height="1.22"/><rect x="1386.20" y="1802.68" width="1.22" height="1.22"/><rect x="1386.20" y="1805.01" width="1.22" height="1.22"/><rect x="1386.20" y="1806.18" width="1.22" height="1.22"/><rect x="1386.20" y="1807.35" width="1.22" height="1.22"/><rect x="1386.20" y="1809.68" width="1.22" height="1.22"/><rect x="1386.20" y="1810.85" width="1.22" height="1.22"/><rect x="1386.20" y="1816.69" width="1.22" height="1.22"/><rect x="1386.20" y="1817.86" width="1.22" height="1.22"/><rect x="1386.20" y="1819.03" width="1.22" height="1.22"/><rect x="1386.20" y="1822.53" width="1.22" height="1.22"/><rect x="1387.37" y="1794.50" width="1.22" height="1.22"/><rect x="1387.37" y="1795.67" width="1.22" height="1.22"/><rect x="1387.37" y="1796.84" width="1.22" height="1.22"/><rect x="1387.37" y="1798.00" width="1.22" height="1.22"/><rect x="1387.37" y="1800.34" width="1.22" height="1.22"/><rect x="1387.37" y="1801.51" width="1.22" height="1.22"/><rect x="1387.37" y="1802.68" width="1.22" height="1.22"/><rect x="1387.37" y="1803.84" width="1.22" height="1.22"/><rect x="1387.37" y="1812.02" width="1.22" height="1.22"/><rect x="1387.37" y="1817.86" width="1.22" height="1.22"/><rect x="1387.37" y="1819.03" width="1.22" height="1.22"/><rect x="1387.37" y="1820.20" width="1.22" height="1.22"/><rect x="1387.37" y="1822.53" width="1.22" height="1.22"/><rect x="1388.54" y="1794.50" width="1.22" height="1.22"/><rect x="1388.54" y="1795.67" width="1.22" height="1.22"/><rect x="1388.54" y="1796.84" width="1.22" height="1.22"/><rect x="1388.54" y="1798.00" width="1.22" height="1.22"/><rect x="1388.54" y="1799.17" width="1.22" height="1.22"/><rect x="1388.54" y="1800.34" width="1.22" height="1.22"/><rect x="1388.54" y="1801.51" width="1.22" height="1.22"/><rect x="1388.54" y="1802.68" width="1.22" height="1.22"/><rect x="1388.54" y="1803.84" width="1.22" height="1.22"/><rect x="1388.54" y="1805.01" width="1.22" height="1.22"/><rect x="1388.54" y="1808.52" width="1.22" height="1.22"/><rect x="1388.54" y="1809.68" width="1.22" height="1.22"/><rect x="1388.54" y="1810.85" width="1.22" height="1.22"/><rect x="1388.54" y="1812.02" width="1.22" height="1.22"/><rect x="1388.54" y="1813.19" width="1.22" height="1.22"/><rect x="1388.54" y="1816.69" width="1.22" height="1.22"/><rect x="1388.54" y="1817.86" width="1.22" height="1.22"/><rect x="1388.54" y="1819.03" width="1.22" height="1.22"/><rect x="1388.54" y="1820.20" width="1.22" height="1.22"/><rect x="1388.54" y="1821.36" width="1.22" height="1.22"/><rect x="1388.54" y="1822.53" width="1.22" height="1.22"/><rect x="1389.71" y="1795.67" width="1.22" height="1.22"/><rect x="1389.71" y="1796.84" width="1.22" height="1.22"/><rect x="1389.71" y="1800.34" width="1.22" height="1.22"/><rect x="1389.71" y="1802.68" width="1.22" height="1.22"/><rect x="1389.71" y="1808.52" width="1.22" height="1.22"/><rect x="1389.71" y="1809.68" width="1.22" height="1.22"/><rect x="1389.71" y="1810.85" width="1.22" height="1.22"/><rect x="1389.71" y="1815.52" width="1.22" height="1.22"/><rect x="1389.71" y="1816.69" width="1.22" height="1.22"/><rect x="1390.88" y="1795.67" width="1.22" height="1.22"/><rect x="1390.88" y="1798.00" width="1.22" height="1.22"/><rect x="1390.88" y="1799.17" width="1.22" height="1.22"/><rect x="1390.88" y="1800.34" width="1.22" height="1.22"/><rect x="1390.88" y="1801.51" width="1.22" height="1.22"/><rect x="1390.88" y="1802.68" width="1.22" height="1.22"/><rect x="1390.88" y="1806.18" width="1.22" height="1.22"/><rect x="1390.88" y="1810.85" width="1.22" height="1.22"/><rect x="1390.88" y="1812.02" width="1.22" height="1.22"/><rect x="1390.88" y="1813.19" width="1.22" height="1.22"/><rect x="1390.88" y="1814.36" width="1.22" height="1.22"/><rect x="1390.88" y="1815.52" width="1.22" height="1.22"/><rect x="1390.88" y="1820.20" width="1.22" height="1.22"/><rect x="1392.04" y="1794.50" width="1.22" height="1.22"/><rect x="1392.04" y="1800.34" width="1.22" height="1.22"/><rect x="1392.04" y="1801.51" width="1.22" height="1.22"/><rect x="1392.04" y="1803.84" width="1.22" height="1.22"/><rect x="1392.04" y="1807.35" width="1.22" height="1.22"/><rect x="1392.04" y="1808.52" width="1.22" height="1.22"/><rect x="1392.04" y="1812.02" width="1.22" height="1.22"/><rect x="1392.04" y="1813.19" width="1.22" height="1.22"/><rect x="1392.04" y="1814.36" width="1.22" height="1.22"/><rect x="1392.04" y="1817.86" width="1.22" height="1.22"/><rect x="1392.04" y="1822.53" width="1.22" height="1.22"/><rect x="1393.21" y="1795.67" width="1.22" height="1.22"/><rect x="1393.21" y="1796.84" width="1.22" height="1.22"/><rect x="1393.21" y="1802.68" width="1.22" height="1.22"/><rect x="1393.21" y="1806.18" width="1.22" height="1.22"/><rect x="1393.21" y="1807.35" width="1.22" height="1.22"/><rect x="1393.21" y="1808.52" width="1.22" height="1.22"/><rect x="1393.21" y="1809.68" width="1.22" height="1.22"/><rect x="1393.21" y="1812.02" width="1.22" height="1.22"/><rect x="1393.21" y="1813.19" width="1.22" height="1.22"/><rect x="1393.21" y="1814.36" width="1.22" height="1.22"/><rect x="1393.21" y="1816.69" width="1.22" height="1.22"/><rect x="1393.21" y="1817.86" width="1.22" height="1.22"/><rect x="1393.21" y="1821.36" width="1.22" height="1.22"/><rect x="1394.38" y="1798.00" width="1.22" height="1.22"/><rect x="1394.38" y="1799.17" width="1.22" height="1.22"/><rect x="1394.38" y="1800.34" width="1.22" height="1.22"/><rect x="1394.38" y="1801.51" width="1.22" height="1.22"/><rect x="1394.38" y="1803.84" width="1.22" height="1.22"/><rect x="1394.38" y="1805.01" width="1.22" height="1.22"/><rect x="1394.38" y="1808.52" width="1.22" height="1.22"/><rect x="1394.38" y="1813.19" width="1.22" height="1.22"/><rect x="1394.38" y="1815.52" width="1.22" height="1.22"/><rect x="1394.38" y="1816.69" width="1.22" height="1.22"/><rect x="1395.55" y="1794.50" width="1.22" height="1.22"/><rect x="1395.55" y="1800.34" width="1.22" height="1.22"/><rect x="1395.55" y="1802.68" width="1.22" height="1.22"/><rect x="1395.55" y="1808.52" width="1.22" height="1.22"/><rect x="1395.55" y="1813.19" width="1.22" height="1.22"/><rect x="1395.55" y="1814.36" width="1.22" height="1.22"/><rect x="1395.55" y="1815.52" width="1.22" height="1.22"/><rect x="1395.55" y="1816.69" width="1.22" height="1.22"/><rect x="1395.55" y="1817.86" width="1.22" height="1.22"/><rect x="1395.55" y="1819.03" width="1.22" height="1.22"/><rect x="1396.72" y="1794.50" width="1.22" height="1.22"/><rect x="1396.72" y="1798.00" width="1.22" height="1.22"/><rect x="1396.72" y="1801.51" width="1.22" height="1.22"/><rect x="1396.72" y="1803.84" width="1.22" height="1.22"/><rect x="1396.72" y="1805.01" width="1.22" height="1.22"/><rect x="1396.72" y="1808.52" width="1.22" height="1.22"/><rect x="1396.72" y="1809.68" width="1.22" height="1.22"/><rect x="1396.72" y="1812.02" width="1.22" height="1.22"/><rect x="1396.72" y="1813.19" width="1.22" height="1.22"/><rect x="1396.72" y="1814.36" width="1.22" height="1.22"/><rect x="1396.72" y="1816.69" width="1.22" height="1.22"/><rect x="1396.72" y="1819.03" width="1.22" height="1.22"/><rect x="1396.72" y="1820.20" width="1.22" height="1.22"/><rect x="1396.72" y="1821.36" width="1.22" height="1.22"/><rect x="1397.88" y="1795.67" width="1.22" height="1.22"/><rect x="1397.88" y="1800.34" width="1.22" height="1.22"/><rect x="1397.88" y="1801.51" width="1.22" height="1.22"/><rect x="1397.88" y="1802.68" width="1.22" height="1.22"/><rect x="1397.88" y="1805.01" width="1.22" height="1.22"/><rect x="1397.88" y="1806.18" width="1.22" height="1.22"/><rect x="1397.88" y="1807.35" width="1.22" height="1.22"/><rect x="1397.88" y="1810.85" width="1.22" height="1.22"/><rect x="1397.88" y="1812.02" width="1.22" height="1.22"/><rect x="1397.88" y="1816.69" width="1.22" height="1.22"/><rect x="1397.88" y="1817.86" width="1.22" height="1.22"/><rect x="1397.88" y="1820.20" width="1.22" height="1.22"/><rect x="1397.88" y="1821.36" width="1.22" height="1.22"/><rect x="1399.05" y="1796.84" width="1.22" height="1.22"/><rect x="1399.05" y="1799.17" width="1.22" height="1.22"/><rect x="1399.05" y="1801.51" width="1.22" height="1.22"/><rect x="1399.05" y="1802.68" width="1.22" height="1.22"/><rect x="1399.05" y="1806.18" width="1.22" height="1.22"/><rect x="1399.05" y="1807.35" width="1.22" height="1.22"/><rect x="1399.05" y="1809.68" width="1.22" height="1.22"/><rect x="1399.05" y="1810.85" width="1.22" height="1.22"/><rect x="1399.05" y="1812.02" width="1.22" height="1.22"/><rect x="1399.05" y="1813.19" width="1.22" height="1.22"/><rect x="1399.05" y="1814.36" width="1.22" height="1.22"/><rect x="1399.05" y="1815.52" width="1.22" height="1.22"/><rect x="1399.05" y="1816.69" width="1.22" height="1.22"/><rect x="1399.05" y="1819.03" width="1.22" height="1.22"/><rect x="1399.05" y="1821.36" width="1.22" height="1.22"/><rect x="1399.05" y="1822.53" width="1.22" height="1.22"/><rect x="1400.22" y="1794.50" width="1.22" height="1.22"/><rect x="1400.22" y="1795.67" width="1.22" height="1.22"/><rect x="1400.22" y="1796.84" width="1.22" height="1.22"/><rect x="1400.22" y="1800.34" width="1.22" height="1.22"/><rect x="1400.22" y="1801.51" width="1.22" height="1.22"/><rect x="1400.22" y="1803.84" width="1.22" height="1.22"/><rect x="1400.22" y="1806.18" width="1.22" height="1.22"/><rect x="1400.22" y="1807.35" width="1.22" height="1.22"/><rect x="1400.22" y="1809.68" width="1.22" height="1.22"/><rect x="1400.22" y="1814.36" width="1.22" height="1.22"/><rect x="1400.22" y="1819.03" width="1.22" height="1.22"/><rect x="1400.22" y="1820.20" width="1.22" height="1.22"/><rect x="1400.22" y="1821.36" width="1.22" height="1.22"/><rect x="1400.22" y="1822.53" width="1.22" height="1.22"/><rect x="1401.39" y="1794.50" width="1.22" height="1.22"/><rect x="1401.39" y="1796.84" width="1.22" height="1.22"/><rect x="1401.39" y="1798.00" width="1.22" height="1.22"/><rect x="1401.39" y="1799.17" width="1.22" height="1.22"/><rect x="1401.39" y="1803.84" width="1.22" height="1.22"/><rect x="1401.39" y="1805.01" width="1.22" height="1.22"/><rect x="1401.39" y="1806.18" width="1.22" height="1.22"/><rect x="1401.39" y="1807.35" width="1.22" height="1.22"/><rect x="1401.39" y="1808.52" width="1.22" height="1.22"/><rect x="1401.39" y="1809.68" width="1.22" height="1.22"/><rect x="1401.39" y="1810.85" width="1.22" height="1.22"/><rect x="1401.39" y="1815.52" width="1.22" height="1.22"/><rect x="1401.39" y="1817.86" width="1.22" height="1.22"/><rect x="1401.39" y="1819.03" width="1.22" height="1.22"/><rect x="1401.39" y="1820.20" width="1.22" height="1.22"/><rect x="1401.39" y="1821.36" width="1.22" height="1.22"/><rect x="1401.39" y="1822.53" width="1.22" height="1.22"/><rect x="1402.56" y="1795.67" width="1.22" height="1.22"/><rect x="1402.56" y="1798.00" width="1.22" height="1.22"/><rect x="1402.56" y="1799.17" width="1.22" height="1.22"/><rect x="1402.56" y="1800.34" width="1.22" height="1.22"/><rect x="1402.56" y="1801.51" width="1.22" height="1.22"/><rect x="1402.56" y="1802.68" width="1.22" height="1.22"/><rect x="1402.56" y="1803.84" width="1.22" height="1.22"/><rect x="1402.56" y="1805.01" width="1.22" height="1.22"/><rect x="1402.56" y="1806.18" width="1.22" height="1.22"/><rect x="1402.56" y="1814.36" width="1.22" height="1.22"/><rect x="1402.56" y="1815.52" width="1.22" height="1.22"/><rect x="1402.56" y="1817.86" width="1.22" height="1.22"/><rect x="1402.56" y="1821.36" width="1.22" height="1.22"/><rect x="1403.72" y="1799.17" width="1.22" height="1.22"/><rect x="1403.72" y="1810.85" width="1.22" height="1.22"/><rect x="1403.72" y="1812.02" width="1.22" height="1.22"/><rect x="1403.72" y="1813.19" width="1.22" height="1.22"/><rect x="1403.72" y="1814.36" width="1.22" height="1.22"/><rect x="1403.72" y="1815.52" width="1.22" height="1.22"/><rect x="1403.72" y="1822.53" width="1.22" height="1.22"/><rect x="1404.89" y="1794.50" width="1.22" height="1.22"/><rect x="1404.89" y="1801.51" width="1.22" height="1.22"/><rect x="1404.89" y="1803.84" width="1.22" height="1.22"/><rect x="1404.89" y="1805.01" width="1.22" height="1.22"/><rect x="1404.89" y="1806.18" width="1.22" height="1.22"/><rect x="1404.89" y="1808.52" width="1.22" height="1.22"/><rect x="1404.89" y="1812.02" width="1.22" height="1.22"/><rect x="1404.89" y="1813.19" width="1.22" height="1.22"/><rect x="1404.89" y="1814.36" width="1.22" height="1.22"/><rect x="1404.89" y="1820.20" width="1.22" height="1.22"/><rect x="1404.89" y="1821.36" width="1.22" height="1.22"/><rect x="1404.89" y="1822.53" width="1.22" height="1.22"/><rect x="1406.06" y="1795.67" width="1.22" height="1.22"/><rect x="1406.06" y="1798.00" width="1.22" height="1.22"/><rect x="1406.06" y="1799.17" width="1.22" height="1.22"/><rect x="1406.06" y="1800.34" width="1.22" height="1.22"/><rect x="1406.06" y="1805.01" width="1.22" height="1.22"/><rect x="1406.06" y="1807.35" width="1.22" height="1.22"/><rect x="1406.06" y="1808.52" width="1.22" height="1.22"/><rect x="1406.06" y="1809.68" width="1.22" height="1.22"/><rect x="1406.06" y="1812.02" width="1.22" height="1.22"/><rect x="1406.06" y="1815.52" width="1.22" height="1.22"/><rect x="1406.06" y="1816.69" width="1.22" height="1.22"/><rect x="1406.06" y="1820.20" width="1.22" height="1.22"/><rect x="1406.06" y="1821.36" width="1.22" height="1.22"/><rect x="1406.06" y="1822.53" width="1.22" height="1.22"/><rect x="1407.23" y="1795.67" width="1.22" height="1.22"/><rect x="1407.23" y="1798.00" width="1.22" height="1.22"/><rect x="1407.23" y="1801.51" width="1.22" height="1.22"/><rect x="1407.23" y="1807.35" width="1.22" height="1.22"/><rect x="1407.23" y="1809.68" width="1.22" height="1.22"/><rect x="1407.23" y="1810.85" width="1.22" height="1.22"/><rect x="1407.23" y="1812.02" width="1.22" height="1.22"/><rect x="1407.23" y="1813.19" width="1.22" height="1.22"/><rect x="1407.23" y="1814.36" width="1.22" height="1.22"/><rect x="1407.23" y="1815.52" width="1.22" height="1.22"/><rect x="1407.23" y="1816.69" width="1.22" height="1.22"/><rect x="1407.23" y="1817.86" width="1.22" height="1.22"/><rect x="1407.23" y="1819.03" width="1.22" height="1.22"/><rect x="1407.23" y="1821.36" width="1.22" height="1.22"/><rect x="1408.40" y="1795.67" width="1.22" height="1.22"/><rect x="1408.40" y="1800.34" width="1.22" height="1.22"/><rect x="1408.40" y="1801.51" width="1.22" height="1.22"/><rect x="1408.40" y="1802.68" width="1.22" height="1.22"/><rect x="1408.40" y="1806.18" width="1.22" height="1.22"/><rect x="1408.40" y="1807.35" width="1.22" height="1.22"/><rect x="1408.40" y="1808.52" width="1.22" height="1.22"/><rect x="1408.40" y="1809.68" width="1.22" height="1.22"/><rect x="1408.40" y="1810.85" width="1.22" height="1.22"/><rect x="1408.40" y="1813.19" width="1.22" height="1.22"/><rect x="1408.40" y="1815.52" width="1.22" height="1.22"/><rect x="1408.40" y="1816.69" width="1.22" height="1.22"/><rect x="1408.40" y="1819.03" width="1.22" height="1.22"/><rect x="1408.40" y="1820.20" width="1.22" height="1.22"/><rect x="1409.56" y="1801.51" width="1.22" height="1.22"/><rect x="1409.56" y="1803.84" width="1.22" height="1.22"/><rect x="1409.56" y="1807.35" width="1.22" height="1.22"/><rect x="1409.56" y="1808.52" width="1.22" height="1.22"/><rect x="1409.56" y="1810.85" width="1.22" height="1.22"/><rect x="1409.56" y="1812.02" width="1.22" height="1.22"/><rect x="1409.56" y="1813.19" width="1.22" height="1.22"/><rect x="1409.56" y="1814.36" width="1.22" height="1.22"/><rect x="1409.56" y="1817.86" width="1.22" height="1.22"/><rect x="1409.56" y="1820.20" width="1.22" height="1.22"/><rect x="1409.56" y="1822.53" width="1.22" height="1.22"/><rect x="1410.73" y="1794.50" width="1.22" height="1.22"/><rect x="1410.73" y="1795.67" width="1.22" height="1.22"/><rect x="1410.73" y="1796.84" width="1.22" height="1.22"/><rect x="1410.73" y="1799.17" width="1.22" height="1.22"/><rect x="1410.73" y="1800.34" width="1.22" height="1.22"/><rect x="1410.73" y="1803.84" width="1.22" height="1.22"/><rect x="1410.73" y="1805.01" width="1.22" height="1.22"/><rect x="1410.73" y="1806.18" width="1.22" height="1.22"/><rect x="1410.73" y="1807.35" width="1.22" height="1.22"/><rect x="1410.73" y="1808.52" width="1.22" height="1.22"/><rect x="1410.73" y="1809.68" width="1.22" height="1.22"/><rect x="1410.73" y="1810.85" width="1.22" height="1.22"/><rect x="1410.73" y="1812.02" width="1.22" height="1.22"/><rect x="1410.73" y="1816.69" width="1.22" height="1.22"/><rect x="1410.73" y="1817.86" width="1.22" height="1.22"/><rect x="1410.73" y="1820.20" width="1.22" height="1.22"/><rect x="1410.73" y="1821.36" width="1.22" height="1.22"/><rect x="1410.73" y="1822.53" width="1.22" height="1.22"/><rect x="1382.70" y="1794.50" width="8.18" height="8.18" fill="#fff"/><rect x="1383.28" y="1795.08" width="7.01" height="7.01" fill="none" stroke="#333" stroke-width="1.17"/><rect x="1385.04" y="1796.84" width="3.50" height="3.50"/><rect x="1403.72" y="1794.50" width="8.18" height="8.18" fill="#fff"/><rect x="1404.31" y="1795.08" width="7.01" height="7.01" fill="none" stroke="#333" stroke-width="1.17"/><rect x="1406.06" y="1796.84" width="3.50" height="3.50"/><rect x="1382.70" y="1815.52" width="8.18" height="8.18" fill="#fff"/><rect x="1383.28" y="1816.11" width="7.01" height="7.01" fill="none" stroke="#333" stroke-width="1.17"/><rect x="1385.04" y="1817.86" width="3.50" height="3.50"/></g></svg>
<div class="ct" style="left:1186px;top:1343px;font-size:17px;font-weight:bold;color:#3b3b3b">商用密码产品认证证书</div>
<div class="ct" style="left:1194px;top:1380px;font-size:10px;font-weight:bold;color:#333">证书编号：<span style="font-family:'Liberation Serif',serif;font-weight:normal;font-size:11px">GM011310720240235</span></div>
<div class="ct" style="left:1108px;top:1407px;font-size:10px;font-weight:bold;color:#2e2e2e">委托人名称及所在地</div>
<div class="ct" style="left:1108px;top:1451.5px;font-size:10px;font-weight:bold;color:#2e2e2e">生产者（制造商）名称及所在地</div>
<div class="ct" style="left:1108px;top:1496px;font-size:10px;font-weight:bold;color:#2e2e2e">生产企业名称及所在地</div>
<div class="ct" style="left:1108px;top:1539.5px;font-size:10px;font-weight:bold;color:#2e2e2e">产品名称和型号、版本</div>
<div class="ct" style="left:1108px;top:1584px;font-size:10px;font-weight:bold;color:#2e2e2e">产品标准和技术要求</div>
<div class="ct" style="left:1108px;top:1423px;font-size:9px;font-family:'Liberation Serif',serif;color:#252525;letter-spacing:0.75px">河北省电子认证有限公司</div>
<div class="ct" style="left:1108px;top:1434px;font-size:9px;font-family:'Liberation Serif',serif;color:#252525;letter-spacing:0.75px">河北省石家庄市桥西区红旗大街<span class="lat"> 88 </span>号翰林观天下<span class="lat"> 23-1-2701</span></div>
<div class="ct" style="left:1108px;top:1467.5px;font-size:9px;font-family:'Liberation Serif',serif;color:#252525;letter-spacing:0.75px">河北省电子认证有限公司</div>
<div class="ct" style="left:1108px;top:1478.5px;font-size:9px;font-family:'Liberation Serif',serif;color:#252525;letter-spacing:0.75px">河北省石家庄市桥西区红旗大街<span class="lat"> 88 </span>号翰林观天下<span class="lat"> 23-1-2701</span></div>
<div class="ct" style="left:1108px;top:1511px;font-size:9px;font-family:'Liberation Serif',serif;color:#252525;letter-spacing:0.75px">河北省电子认证有限公司</div>
<div class="ct" style="left:1108px;top:1522px;font-size:9px;font-family:'Liberation Serif',serif;color:#252525;letter-spacing:0.75px">河北省石家庄市桥西区红旗大街<span class="lat"> 88 </span>号翰林观天下<span class="lat"> 23 </span>号楼<span class="lat"> 27-28 </span>层</div>
<div class="ct" style="left:1108px;top:1556px;font-size:9px;font-family:'Liberation Serif',serif;color:#252525;letter-spacing:0.75px"><span class="lat">HEBCA </span>安全认证网关</div>
<div class="ct" style="left:1108px;top:1566.5px;font-size:9px;font-family:'Liberation Serif',serif;color:#252525;letter-spacing:0.75px"><span class="lat">HEBCA-SAG-01-G&nbsp;&nbsp;&nbsp; V1.0</span></div>
<div class="ct" style="left:1108px;top:1600px;font-size:9px;font-family:'Liberation Serif',serif;color:#252525;letter-spacing:0.75px"><span class="lat">GM/T 0026</span>《安全认证网关产品规范》</div>
<div class="ct" style="left:1108px;top:1611px;font-size:9px;font-family:'Liberation Serif',serif;color:#252525;letter-spacing:0.75px"><span class="lat">GM/T 0028</span>《密码模块安全技术要求》第二级要求</div>
<div class="ct" style="left:1120px;top:1628.5px;font-size:10px;font-weight:bold;color:#2e2e2e">上述产品符合商用密码产品认证规则的要求，特此发证。</div>
<div class="ct" style="left:1099px;top:1649.5px;font-size:10px;font-weight:bold;color:#2e2e2e">颁发日期：<span style="font-family:'Liberation Serif',serif;letter-spacing:-0.4px">2025 年 5 月 1 日</span></div>
<div class="ct" style="left:1263px;top:1649.5px;font-size:10px;font-weight:bold;color:#2e2e2e">有效期至：<span style="font-family:'Liberation Serif',serif;letter-spacing:-0.4px">2029 年 4 月 14 日</span></div>
<div class="ct" style="left:1138px;top:1671px;font-size:7px;font-weight:bold;color:#333;letter-spacing:0.25px">证书有效期内本证书的有效性依据发证机构的定期监督获得维持。</div>
<div class="ct" style="left:1172px;top:1790px;font-size:13px;font-weight:bold;color:#333;letter-spacing:1px">商用密码检测认证中心</div>
<div class="ct" style="left:1152px;top:1811.5px;font-size:6px;color:#333;font-weight:bold">中国·北京·南四环西路188号&nbsp; www.scctc.org.cn 证书通过此网站查询</div>
</body></html>
